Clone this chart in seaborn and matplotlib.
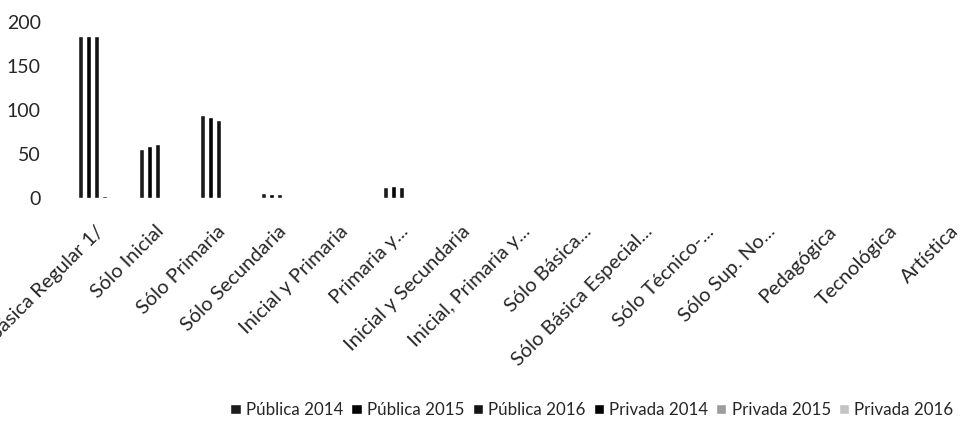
import pandas as pd
import numpy as np
import matplotlib.pyplot as plt
import seaborn as sns

# categorias y series
categorias = ['Básica Regular 1/', 'Sólo Inicial', 'Sólo Primaria', 'Sólo Secundaria',
              'Inicial y Primaria', 'Primaria y...', 'Inicial y Secundaria',
              'Inicial, Primaria y...', 'Sólo Básica...', 'Sólo Básica Especial...',
              'Sólo Técnico-...', 'Sólo Sup. No...', 'Pedagógica', 'Tecnológica', 'Artística']
series = ['Pública 2014', 'Pública 2015', 'Pública 2016',
          'Privada 2014', 'Privada 2015', 'Privada 2016']

publica_2014 = [184, 56, 94, 6, 1, 13, 0, 0, 0, 0, 0, 1, 0, 0, 0]
publica_2015 = [184, 59, 92, 5, 1, 14, 0, 0, 0, 0, 0, 0, 0, 1, 0]
publica_2016 = [184, 61, 89, 5, 1, 13, 0, 0, 0, 0, 0, 0, 0, 0, 0]
privada_2014 = [2, 0, 0, 0, 0, 0, 0, 0, 0, 0, 0, 0, 0, 0, 0]
privada_2015 = [0, 0, 0, 0, 0, 0, 0, 0, 0, 0, 0, 0, 0, 0, 0]
privada_2016 = [0, 0, 0, 0, 0, 0, 0, 0, 0, 0, 0, 0, 0, 0, 0]

valores = [publica_2014, publica_2015, publica_2016, privada_2014, privada_2015, privada_2016]
data = pd.DataFrame({
    'Categoria': categorias * len(series),
    'Serie': np.repeat(series, len(categorias)),
    'Valor': np.concatenate(valores),
})

colores = ['#1c1c1c', '#050505', '#141414', '#000000', '#9c9c9c', '#c4c4c4']

sns.set_style('white')
plt.rcParams['font.family'] = ['Lato', 'DejaVu Sans']

fig = plt.figure(figsize=(9.62, 4.21), dpi=100)
ax = fig.add_axes([70 / 962, (421 - 198) / 421, 916 / 962, 176 / 421])

sns.barplot(data=data, x='Categoria', y='Valor', hue='Serie', palette=colores,
            width=0.8, gap=0.35, ax=ax, legend=True)

ax.set_ylim(0, 200)
ax.set_xlim(-0.5, 14.5)
ax.set_yticks([0, 50, 100, 150, 200])
ax.set_xlabel('')
ax.set_ylabel('')
sns.despine(ax=ax, left=True, bottom=True)
ax.tick_params(axis='y', length=0, pad=21, labelsize=14)
ax.tick_params(axis='x', length=0, pad=22, labelsize=14.5)
for lbl in ax.get_xticklabels():
    lbl.set_rotation(45)
    lbl.set_ha('right')
    lbl.set_rotation_mode('anchor')
    lbl.set_va('center')

handles, labels = ax.get_legend_handles_labels()
ax.get_legend().remove()
fig.legend(handles, labels, loc='center', bbox_to_anchor=(592 / 962, 11 / 421),
           ncol=6, frameon=False, fontsize=12.2, handlelength=0.6, handleheight=0.6,
           handletextpad=0.3, columnspacing=0.5)

plt.savefig('out.png', dpi=100)
